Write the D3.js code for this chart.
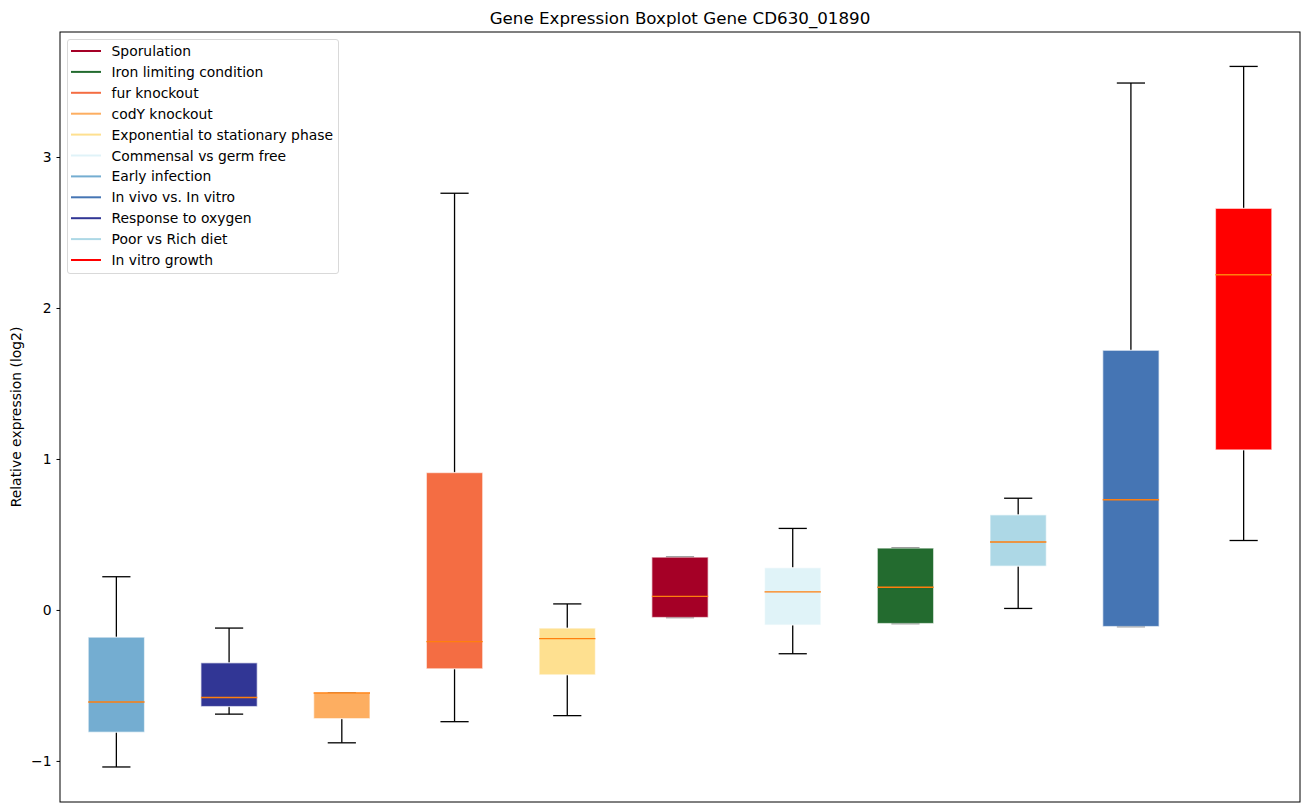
<!DOCTYPE html>
<html>
<head>
<meta charset="utf-8">
<script src="https://cdn.jsdelivr.net/npm/d3@7"></script>
<style>
  body { margin: 0; background: #fff; }
  text { font-family: "DejaVu Sans", sans-serif; fill: #000; }
</style>
</head>
<body>
<div id="chart"></div>
<script>
// groups in plotting order (left to right)
const groups = [
  "Early infection", "Response to oxygen", "codY knockout", "fur knockout",
  "Exponential to stationary phase", "Sporulation", "Commensal vs germ free",
  "Iron limiting condition", "Poor vs Rich diet", "In vivo vs. In vitro", "In vitro growth"
];
const whiskLow = [-1.04, -0.69, -0.88, -0.74, -0.70, -0.05, -0.29, -0.09, 0.01, -0.11, 0.46];
const q1       = [-0.81, -0.64, -0.72, -0.39, -0.43, -0.05, -0.10, -0.09, 0.29, -0.11, 1.06];
const median   = [-0.61, -0.58, -0.55, -0.21, -0.19, 0.09, 0.12, 0.15, 0.45, 0.73, 2.22];
const q3       = [-0.18, -0.35, -0.55, 0.91, -0.12, 0.35, 0.28, 0.41, 0.63, 1.72, 2.66];
const whiskHigh= [0.22, -0.12, -0.55, 2.76, 0.04, 0.35, 0.54, 0.41, 0.74, 3.49, 3.60];

// legend order and colours
const legendNames = [
  "Sporulation", "Iron limiting condition", "fur knockout", "codY knockout",
  "Exponential to stationary phase", "Commensal vs germ free", "Early infection",
  "In vivo vs. In vitro", "Response to oxygen", "Poor vs Rich diet", "In vitro growth"
];
const legendColors = [
  "#a50026", "#236b2f", "#f46d43", "#fdae61", "#fee090", "#e0f3f8",
  "#74add1", "#4575b4", "#313695", "#add8e6", "#ff0000"
];
const yTicks = [-1, 0, 1, 2, 3];

const W = 1309, H = 812;
const margin = { top: 32, right: 9, bottom: 10, left: 60 };
const innerW = W - margin.left - margin.right;
const innerH = H - margin.top - margin.bottom;
const fontSize = "13.9px";

const colorOf = d3.scaleOrdinal().domain(legendNames).range(legendColors);

const svg = d3.select("#chart").append("svg")
  .attr("width", W).attr("height", H);

const g = svg.append("g")
  .attr("transform", `translate(${margin.left},${margin.top})`);

const x = d3.scaleLinear().domain([0.5, groups.length + 0.5]).range([0, innerW]);
const y = d3.scaleLinear().domain([-1.272, 3.828]).range([innerH, 0]);

const unit = x(2) - x(1);
const boxW = unit * 0.5;
const capW = boxW * 0.5;

const data = groups.map((name, i) => ({
  name, pos: i + 1,
  lo: whiskLow[i], q1: q1[i], med: median[i], q3: q3[i], hi: whiskHigh[i]
}));

// y axis
const yAxis = g.append("g")
  .call(d3.axisLeft(y).tickValues(yTicks).tickSize(3.5).tickPadding(5)
    .tickFormat(d => d < 0 ? "\u2212" + Math.abs(d) : d));
yAxis.select(".domain").remove();
yAxis.selectAll("text").style("font-size", fontSize).style("font-family", "DejaVu Sans");

const items = g.selectAll(".item").data(data).enter().append("g");

// whiskers
items.append("line")
  .attr("x1", d => x(d.pos)).attr("x2", d => x(d.pos))
  .attr("y1", d => y(d.q3)).attr("y2", d => y(d.hi))
  .attr("stroke", "#000").attr("stroke-width", 1.3);
items.append("line")
  .attr("x1", d => x(d.pos)).attr("x2", d => x(d.pos))
  .attr("y1", d => y(d.q1)).attr("y2", d => y(d.lo))
  .attr("stroke", "#000").attr("stroke-width", 1.3);

// caps
["hi", "lo"].forEach(k => {
  items.append("line")
    .attr("x1", d => x(d.pos) - capW / 2).attr("x2", d => x(d.pos) + capW / 2)
    .attr("y1", d => y(d[k])).attr("y2", d => y(d[k]))
    .attr("stroke", "#000").attr("stroke-width", 1.3);
});

// boxes
items.append("rect")
  .attr("x", d => x(d.pos) - boxW / 2)
  .attr("width", boxW)
  .attr("y", d => y(d.q3))
  .attr("height", d => Math.max(0.5, y(d.q1) - y(d.q3)))
  .attr("fill", d => colorOf(d.name))
  .attr("stroke", "rgba(255,255,255,0.6)")
  .attr("stroke-width", 1.3);

// medians
items.append("line")
  .attr("x1", d => x(d.pos) - boxW / 2).attr("x2", d => x(d.pos) + boxW / 2)
  .attr("y1", d => y(d.med)).attr("y2", d => y(d.med))
  .attr("stroke", "#ff7f0e").attr("stroke-width", 1.4);

// frame
g.append("rect")
  .attr("width", innerW).attr("height", innerH)
  .attr("fill", "none").attr("stroke", "#000").attr("stroke-width", 1);

// title and label
svg.append("text")
  .attr("x", margin.left + innerW / 2).attr("y", 24)
  .attr("text-anchor", "middle").style("font-size", "16.7px")
  .text("Gene Expression Boxplot Gene CD630_01890");

svg.append("text")
  .attr("transform", `translate(21,${margin.top + innerH / 2}) rotate(-90)`)
  .attr("text-anchor", "middle").style("font-size", fontSize)
  .text("Relative expression (log2)");

// legend
const legend = g.append("g").attr("transform", "translate(7.5,7.5)");
const rowH = 20.9;
legend.append("rect")
  .attr("width", 271).attr("height", 234).attr("rx", 2.5)
  .attr("fill", "rgba(255,255,255,0.8)").attr("stroke", "#d9d9d9").attr("stroke-width", 1);

const rows = legend.selectAll(".row").data(legendNames).enter().append("g")
  .attr("transform", (d, i) => `translate(0,${11.5 + i * rowH})`);
rows.append("line")
  .attr("x1", 3.5).attr("x2", 33.5)
  .attr("stroke", d => colorOf(d)).attr("stroke-width", 2);
rows.append("text")
  .attr("x", 44).attr("dy", "0.36em")
  .style("font-size", fontSize)
  .text(d => d);
</script>
</body>
</html>
